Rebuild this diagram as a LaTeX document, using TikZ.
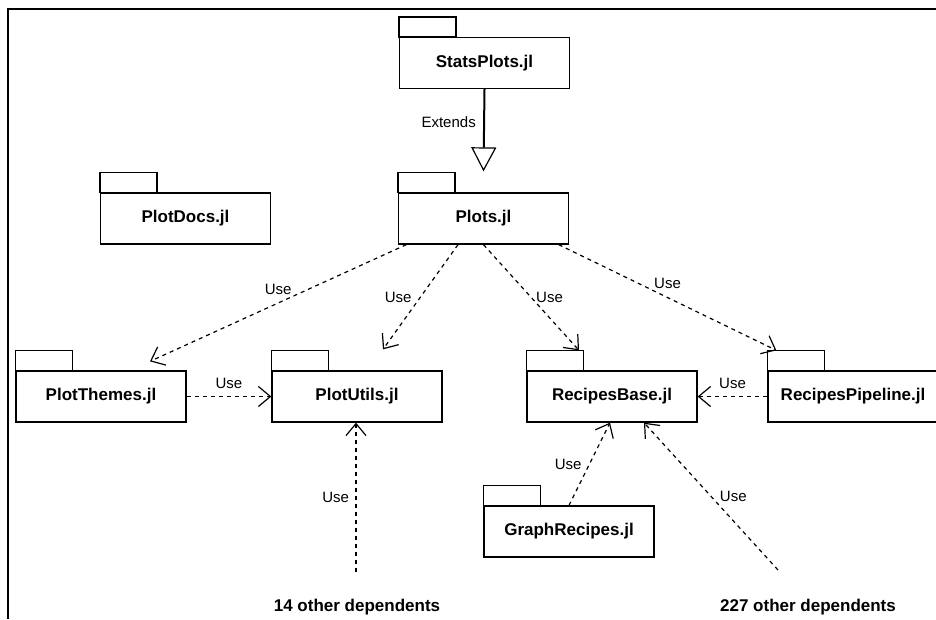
\documentclass[tikz,border=0pt]{standalone}
\usepackage{fontspec}
\setmainfont{Liberation Sans}
\usetikzlibrary{arrows.meta}
\begin{document}
\begin{tikzpicture}[x=1pt,y=-1pt,
  		pkg/.style={draw,line width=1.3pt,minimum width=170pt,minimum height=51pt,
  		  font=\fontsize{17}{20}\selectfont\bfseries},
  		use/.style={line width=1.2pt,dash pattern=on 4pt off 4pt,
  		  -{Straight Barb[length=12pt,width=20pt,line width=1.2pt]}},
  		lbl/.style={font=\fontsize{15}{18}\selectfont},
  		dep/.style={font=\fontsize{17}{20}\selectfont\bfseries}]
  		\useasboundingbox (0,0) rectangle (936,619);
  		\clip (0,0) rectangle (936,619);
  		\draw[line width=1.5pt] (936,9) -- (8,9) -- (8,619);
  		\node[pkg] (stats) at (484.5,63) {StatsPlots.jl};
  		\node[pkg] (plots) at (483.5,218.5) {Plots.jl};
  		\node[pkg] (docs) at (185.5,218.5) {PlotDocs.jl};
  		\node[pkg] (themes) at (101,396.5) {PlotThemes.jl};
  		\node[pkg] (utils) at (357,396.5) {PlotUtils.jl};
  		\node[pkg] (base) at (612,396.5) {RecipesBase.jl};
  		\node[pkg] (pipe) at (853,396.5) {RecipesPipeline.jl};
  		\node[pkg] (graph) at (569,531.5) {GraphRecipes.jl};
  		\foreach \n in {stats,plots,docs,themes,utils,base,pipe,graph}
  		  \draw[line width=1.3pt] (\n.north west) rectangle ++(57,-20);
  		\node[dep] (dep14) at (357,607) {14 other dependents};
  		\node[dep] (dep227) at (808,607) {227 other dependents};
  		\coordinate (from14) at (356,572);
  		\coordinate (from227) at (778,570);
  		\draw[line width=2pt,-{Triangle[open,length=24pt,width=25pt,line width=1.2pt,fill=white]}]
  		  (stats.south) -- ([yshift=21pt]plots.north) node[pos=.4,left=4pt,lbl] {Extends};
  		\draw[use] ([xshift=8.5pt]plots.south west) -- ([xshift=49pt,yshift=9pt]themes.north)
  		  node[midway,above=4pt,lbl] {Use};
  		\draw[use] ([xshift=-25.5pt]plots.south) -- ([xshift=26pt,yshift=21pt]utils.north)
  		  node[midway,left=5pt,lbl] {Use};
  		\draw[use] (plots.south) -- ([xshift=-33pt,yshift=20pt]base.north)
  		  node[midway,right=1pt,lbl] {Use};
  		\draw[use] ([xshift=-10.5pt]plots.south east) -- ([xshift=9pt,yshift=20pt]pipe.north west)
  		  node[midway,above=5pt,lbl] {Use};
  		\draw[use] (themes.east) -- (utils.west) node[midway,above=4pt,lbl] {Use};
  		\draw[use] (pipe.west) -- (base.east) node[midway,above=4pt,lbl] {Use};
  		\draw[use] (graph.north) -- ([xshift=-2pt]base.south) node[midway,left=4pt,lbl] {Use};
  		\draw[use] (from227) -- ([xshift=32pt]base.south) node[midway,right=5pt,lbl] {Use};
  		\draw[use] (from14) -- ([xshift=-1pt]utils.south) node[midway,left=3pt,lbl] {Use};
\end{tikzpicture}
\end{document}
